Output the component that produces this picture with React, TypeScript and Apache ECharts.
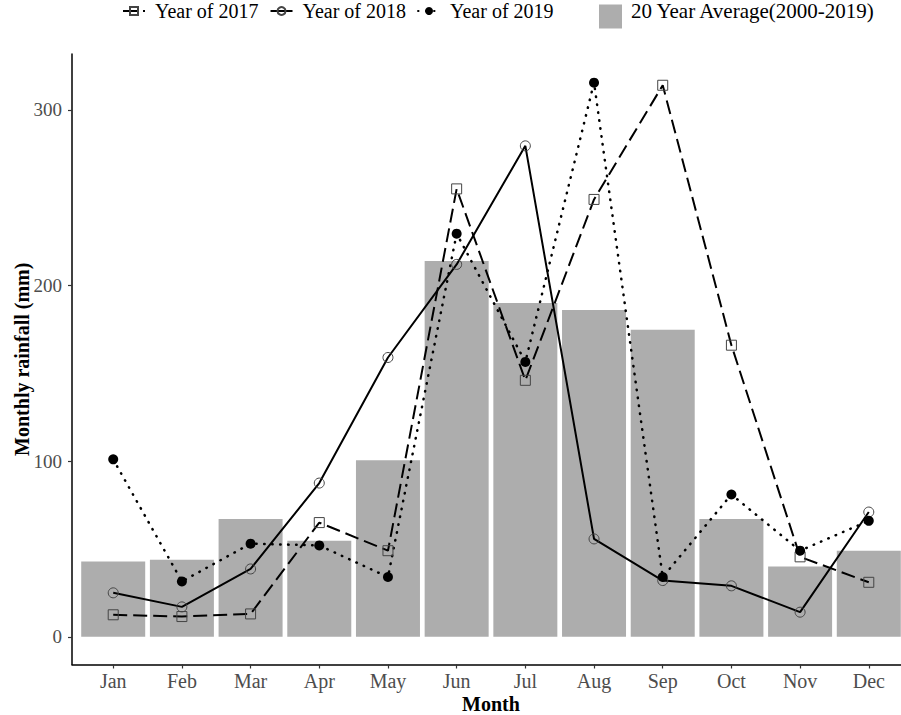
import React, { useEffect, useRef } from "react";
import * as echarts from "echarts";

const months = ["Jan", "Feb", "Mar", "Apr", "May", "Jun", "Jul", "Aug", "Sep", "Oct", "Nov", "Dec"];
const year2017 = [12.5, 11.5, 13, 65, 49, 255, 146, 249, 314, 166, 45.5, 31];
const year2018 = [25, 17, 38.6, 87.5, 159, 212, 279.5, 55.7, 32, 29, 14, 71];
const year2019 = [101, 31.5, 53, 52, 34, 229.5, 156.5, 315.5, 34, 81, 49, 66];
const average20 = [42.8, 43.8, 67, 54.7, 100.5, 214, 190, 186, 174.8, 67, 40, 49];
const yTicks = [0, 100, 200, 300];

const FONT = "'Liberation Serif', 'Times New Roman', serif";

const toPairs = (arr: number[]) => arr.map((v, i) => [i, v]);

export default function App() {
  const ref = useRef<HTMLDivElement>(null);
  useEffect(() => {
    if (!ref.current) return;
    const chart = echarts.init(ref.current, null, { renderer: "svg" });
    const idx = months.map((_, i) => i);
    chart.setOption({
      animation: false,
      backgroundColor: "#ffffff",
      textStyle: { fontFamily: FONT },
      grid: {
        left: 72,
        right: -9,
        top: 54,
        bottom: 50.5,
        containLabel: false,
        outerBoundsMode: "none",
      },
      legend: [
        {
          data: ["Year of 2017", "Year of 2018", "Year of 2019"],
          left: 122,
          top: 1,
          padding: 0,
          itemWidth: 22,
          itemHeight: 10,
          itemGap: 11,
          textStyle: { fontFamily: FONT, fontSize: 20, color: "#000", padding: [0, 0, 0, 5] },
        },
        {
          data: ["20 Year Average(2000-2019)"],
          left: 599,
          top: 0.5,
          padding: 0,
          itemWidth: 23,
          itemHeight: 24,
          icon: "rect",
          formatter: (name: string) => `{t|${name}}`,
          textStyle: {
            fontFamily: FONT,
            fontSize: 21,
            color: "#000",
            rich: {
              t: { fontFamily: FONT, fontSize: 21, color: "#000", padding: [0, 0, 11, 4] },
            },
          },
        },
      ],
      xAxis: {
        type: "value",
        min: -0.6,
        max: 11.6,
        name: "Month",
        nameLocation: "middle",
        nameGap: 29,
        nameMoveOverlap: false,
        nameTextStyle: { fontFamily: FONT, fontSize: 20, fontWeight: "bold", color: "#000" },
        axisLine: { show: true, onZero: false, lineStyle: { color: "#000", width: 1.5 } },
        axisTick: { show: true, length: 4, customValues: idx, lineStyle: { color: "#333", width: 1.2 } },
        axisLabel: {
          customValues: idx,
          margin: 6,
          fontFamily: FONT,
          fontSize: 20,
          color: "#4D4D4D",
          formatter: (v: number) => months[Math.round(v)] ?? "",
        },
        splitLine: { show: false },
      },
      yAxis: {
        type: "value",
        min: -15.8,
        max: 331.8,
        name: "Monthly rainfall (mm)",
        nameLocation: "middle",
        nameGap: 40,
        nameMoveOverlap: false,
        nameTextStyle: { fontFamily: FONT, fontSize: 20, fontWeight: "bold", color: "#000" },
        axisLine: { show: true, onZero: false, lineStyle: { color: "#000", width: 1.5 } },
        axisTick: { show: true, length: 4, customValues: yTicks, lineStyle: { color: "#333", width: 1.2 } },
        axisLabel: {
          customValues: yTicks,
          margin: 10,
          fontFamily: FONT,
          fontSize: 19,
          color: "#4D4D4D",
        },
        splitLine: { show: false },
      },
      series: [
        {
          name: "20 Year Average(2000-2019)",
          type: "bar",
          data: toPairs(average20),
          barWidth: 64,
          itemStyle: { color: "#ADADAD" },
          z: 1,
        },
        {
          name: "Year of 2017",
          type: "line",
          data: toPairs(year2017),
          symbol: "rect",
          symbolSize: 10,
          showSymbol: true,
          itemStyle: { color: "rgba(0,0,0,0)", borderColor: "#444", borderWidth: 1 },
          lineStyle: { color: "#000", width: 2, type: [14, 6] },
          z: 3,
        },
        {
          name: "Year of 2018",
          type: "line",
          data: toPairs(year2018),
          symbol: "circle",
          symbolSize: 10,
          showSymbol: true,
          itemStyle: { color: "rgba(0,0,0,0)", borderColor: "#444", borderWidth: 1 },
          lineStyle: { color: "#000", width: 2, type: "solid" },
          z: 3,
        },
        {
          name: "Year of 2019",
          type: "line",
          data: toPairs(year2019),
          symbol: "circle",
          symbolSize: 10,
          showSymbol: true,
          itemStyle: { color: "#000", borderColor: "#000", borderWidth: 0 },
          lineStyle: { color: "#000", width: 2.5, type: [0.5, 7.5], cap: "round" },
          z: 3,
        },
      ],
    });
    return () => chart.dispose();
  }, []);
  return (
    <div
      ref={ref}
      style={{ position: "absolute", left: 0, top: 0, width: 901, height: 715, background: "#fff" }}
    />
  );
}
